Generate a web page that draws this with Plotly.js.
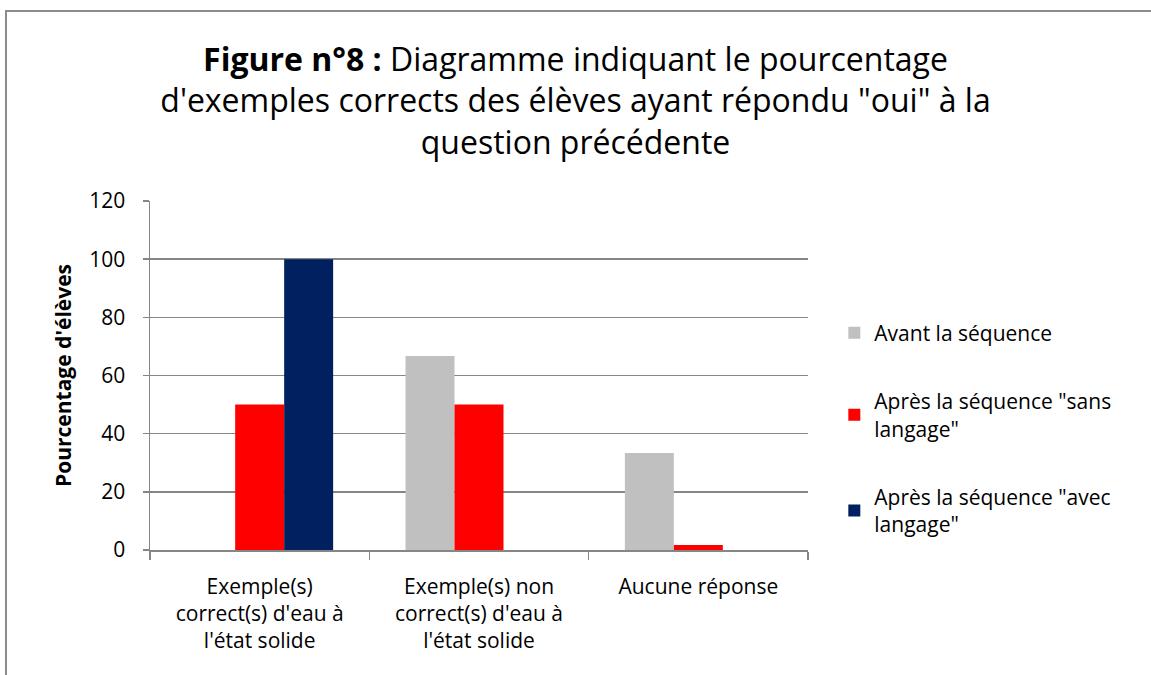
<!DOCTYPE html>
<html>
<head>
<meta charset="utf-8">
<script src="https://cdn.plot.ly/plotly-3.0.1.min.js"></script>
<style>
  html, body { margin: 0; padding: 0; width: 1151px; height: 675px; overflow: hidden; background: #fff; }
  #frame { position: absolute; left: 5px; top: 10px; width: 2000px; height: 2000px;
           border-top: 2px solid #8c8c8c; border-left: 2px solid #8c8c8c; pointer-events: none; }
  #chart { position: absolute; left: 0; top: 0; width: 1151px; height: 675px; }
</style>
</head>
<body>
<div id="frame"></div>
<div id="chart"></div>
<script>
const categories = [
  "Exemple(s)<br>correct(s) d'eau à<br>l'état solide",
  "Exemple(s) non<br>correct(s) d'eau à<br>l'état solide",
  "Aucune réponse"
];
const seriesNames = [
  "Avant la séquence",
  "Après la séquence \"sans<br>langage\"",
  "Après la séquence \"avec<br>langage\""
];
const avant = [0, 66.67, 33.33];
const apresSans = [50, 50, 1.7];
const apresAvec = [100, 0, 0];
const colors = ["#C0C0C0", "#FF0000", "#002060"];
const yTicks = [0, 20, 40, 60, 80, 100, 120];

const values = [avant, apresSans, apresAvec];
const font = "'Open Sans', 'Liberation Sans', sans-serif";

const traces = values.map((v, i) => ({
  type: "bar",
  x: categories,
  y: v,
  name: seriesNames[i],
  legendgroup: "g" + i,
  marker: { color: colors[i], line: { width: 0 } },
  hoverinfo: "skip"
}));

const layout = {
  width: 1151,
  height: 675,
  paper_bgcolor: "rgba(0,0,0,0)",
  plot_bgcolor: "rgba(0,0,0,0)",
  font: { family: font, color: "#000", size: 21 },
  margin: { l: 150, r: 343, t: 201, b: 125, pad: 0 },
  title: {
    text: "<b>Figure n°8 :</b> Diagramme indiquant le pourcentage<br>d'exemples corrects des élèves ayant répondu \"oui\" à la<br>question précédente",
    font: { family: font, size: 32, color: "#000" },
    x: 0.5, xref: "container", xanchor: "center",
    y: 0.895, yref: "container", yanchor: "middle"
  },
  barmode: "group",
  bargap: 0.33,
  bargroupgap: 0,
  showlegend: true,
  legend: {
    x: 1.04, xanchor: "left",
    y: 0.68, yanchor: "top",
    traceorder: "grouped",
    tracegroupgap: 38,
    font: { family: font, size: 21, color: "#000" },
    bgcolor: "rgba(0,0,0,0)",
    itemclick: false, itemdoubleclick: false
  },
  xaxis: {
    type: "category",
    showgrid: false,
    showline: true,
    linecolor: "#868686",
    linewidth: 1.5,
    ticks: "outside",
    tickson: "boundaries",
    ticklen: 8,
    tickcolor: "#868686",
    tickwidth: 1.5,
    ticklabelstandoff: 17,
    tickfont: { family: font, size: 21, color: "#000" },
    fixedrange: true
  },
  yaxis: {
    range: [0, 120],
    tickvals: yTicks,
    ticktext: yTicks.map(String),
    showgrid: true,
    gridcolor: "#868686",
    gridwidth: 1.5,
    zeroline: false,
    showline: true,
    linecolor: "#868686",
    linewidth: 1.5,
    ticks: "outside",
    ticklen: 6,
    tickcolor: "#868686",
    tickwidth: 1.5,
    ticklabelstandoff: 13,
    tickfont: { family: font, size: 21, color: "#000" },
    title: {
      text: "<b>Pourcentage d'élèves</b>",
      font: { family: font, size: 21, color: "#000" },
      standoff: 12
    },
    fixedrange: true
  }
};

Plotly.newPlot("chart", traces, layout, { displayModeBar: false, staticPlot: true });
</script>
</body>
</html>
